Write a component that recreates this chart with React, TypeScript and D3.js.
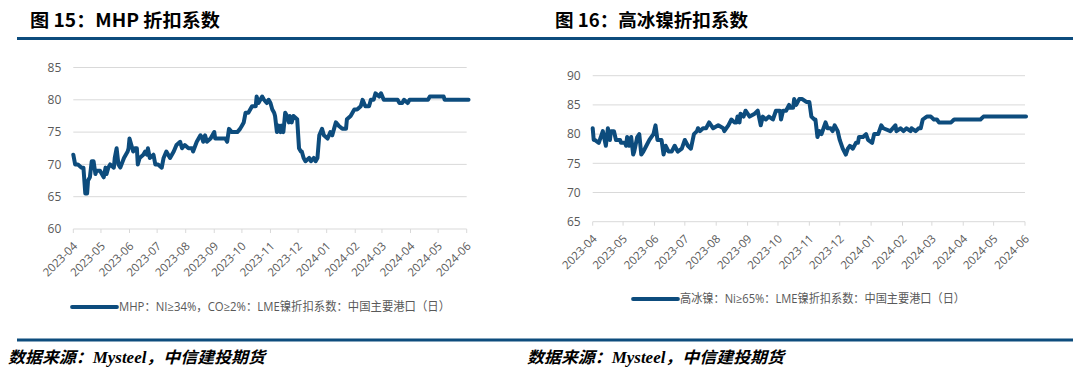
import React from 'react';
import * as d3 from 'd3';

// MHP: NI>=34%, CO>=2% LME nickel discount coefficient (China main ports, daily)
const mhpData: [string, number][] = [
  ['2023-04-01', 71.5], ['2023-04-03', 70], ['2023-04-06', 70], ['2023-04-10', 69.5], ['2023-04-12', 69.5],
  ['2023-04-14', 65.5], ['2023-04-16', 65.5], ['2023-04-17', 67.5], ['2023-04-19', 68], ['2023-04-21', 70.5],
  ['2023-04-23', 70.5], ['2023-04-25', 68.5], ['2023-04-26', 69], ['2023-04-30', 69], ['2023-05-02', 68.5],
  ['2023-05-04', 68], ['2023-05-06', 69.5], ['2023-05-07', 68.5], ['2023-05-09', 69.5], ['2023-05-11', 70],
  ['2023-05-15', 69.5], ['2023-05-16', 71], ['2023-05-18', 72.5], ['2023-05-20', 70], ['2023-05-22', 69.5],
  ['2023-05-26', 71], ['2023-05-30', 72], ['2023-05-31', 72.5], ['2023-06-01', 74], ['2023-06-03', 73],
  ['2023-06-05', 72], ['2023-06-07', 72.5], ['2023-06-09', 72.5], ['2023-06-10', 70], ['2023-06-12', 71],
  ['2023-06-16', 71.5], ['2023-06-18', 72], ['2023-06-20', 71.5], ['2023-06-21', 72.5], ['2023-06-23', 71],
  ['2023-06-27', 71.5], ['2023-06-29', 70], ['2023-07-02', 70], ['2023-07-06', 69.5], ['2023-07-08', 71],
  ['2023-07-11', 72], ['2023-07-15', 71], ['2023-07-19', 72], ['2023-07-22', 73], ['2023-07-26', 73.5],
  ['2023-07-28', 72.5], ['2023-07-31', 73], ['2023-08-04', 72.5], ['2023-08-08', 72.5], ['2023-08-09', 72],
  ['2023-08-13', 73.5], ['2023-08-17', 74.5], ['2023-08-19', 74], ['2023-08-20', 73.5], ['2023-08-22', 74.5],
  ['2023-08-24', 73.5], ['2023-08-28', 74], ['2023-09-01', 75], ['2023-09-02', 74], ['2023-09-08', 74],
  ['2023-09-13', 74], ['2023-09-15', 73.5], ['2023-09-17', 75.5], ['2023-09-20', 75], ['2023-09-26', 75],
  ['2023-09-29', 75.5], ['2023-10-01', 76], ['2023-10-03', 76.5], ['2023-10-05', 78], ['2023-10-08', 78],
  ['2023-10-12', 79], ['2023-10-16', 79], ['2023-10-17', 80.5], ['2023-10-19', 79.5], ['2023-10-23', 80.5],
  ['2023-10-25', 80], ['2023-10-28', 79.5], ['2023-10-30', 80], ['2023-11-01', 79.5], ['2023-11-03', 78.5],
  ['2023-11-05', 78], ['2023-11-06', 77.5], ['2023-11-08', 75], ['2023-11-10', 76], ['2023-11-12', 75],
  ['2023-11-13', 76], ['2023-11-15', 75], ['2023-11-17', 78], ['2023-11-19', 77.5], ['2023-11-21', 76.5],
  ['2023-11-22', 77.5], ['2023-11-24', 76.5], ['2023-11-26', 77.5], ['2023-11-30', 77], ['2023-12-02', 72.5],
  ['2023-12-04', 72], ['2023-12-05', 72], ['2023-12-07', 71], ['2023-12-09', 70.5], ['2023-12-13', 71],
  ['2023-12-15', 70.5], ['2023-12-18', 71], ['2023-12-20', 70.5], ['2023-12-22', 71], ['2023-12-24', 74.5],
  ['2023-12-27', 75.5], ['2023-12-29', 74.5], ['2024-01-02', 74], ['2024-01-05', 75], ['2024-01-07', 74.5],
  ['2024-01-11', 76.5], ['2024-01-14', 76], ['2024-01-18', 75.5], ['2024-01-22', 75.5], ['2024-01-23', 77],
  ['2024-01-27', 77.5], ['2024-01-31', 78.5], ['2024-02-03', 78.5], ['2024-02-07', 79], ['2024-02-09', 80],
  ['2024-02-12', 79], ['2024-02-16', 79], ['2024-02-18', 80], ['2024-02-21', 80], ['2024-02-23', 81],
  ['2024-02-27', 80.5], ['2024-02-29', 81], ['2024-03-03', 80], ['2024-03-18', 80], ['2024-03-20', 79.5],
  ['2024-03-23', 79.5], ['2024-03-25', 80], ['2024-03-29', 79.5], ['2024-03-31', 80], ['2024-04-20', 80],
  ['2024-04-22', 80.5], ['2024-05-07', 80.5], ['2024-05-08', 80], ['2024-06-03', 80],
];

// high-grade nickel matte: Ni>=65% LME nickel discount coefficient
const matteData: [string, number][] = [
  ['2023-04-01', 81], ['2023-04-02', 79], ['2023-04-03', 79], ['2023-04-07', 78.5], ['2023-04-10', 80],
  ['2023-04-11', 80.5], ['2023-04-14', 78], ['2023-04-16', 81], ['2023-04-18', 79], ['2023-04-19', 80.5],
  ['2023-04-22', 80.5], ['2023-04-24', 79], ['2023-04-28', 79], ['2023-04-29', 78.5], ['2023-05-03', 78.5],
  ['2023-05-04', 78], ['2023-05-05', 79.5], ['2023-05-07', 78], ['2023-05-09', 79.5], ['2023-05-11', 76.5],
  ['2023-05-12', 77], ['2023-05-15', 79.5], ['2023-05-17', 80], ['2023-05-19', 76.5], ['2023-05-21', 77],
  ['2023-05-24', 78], ['2023-05-27', 79], ['2023-05-31', 80], ['2023-06-02', 81.5], ['2023-06-04', 79],
  ['2023-06-08', 79], ['2023-06-10', 76.5], ['2023-06-12', 78], ['2023-06-15', 77], ['2023-06-18', 77],
  ['2023-06-21', 78], ['2023-06-24', 77], ['2023-06-28', 77.5], ['2023-07-01', 79], ['2023-07-04', 78],
  ['2023-07-07', 77.5], ['2023-07-10', 80], ['2023-07-13', 80.5], ['2023-07-14', 81], ['2023-07-16', 80.5],
  ['2023-07-19', 81], ['2023-07-22', 81], ['2023-07-25', 82], ['2023-07-27', 81.5], ['2023-07-29', 81],
  ['2023-08-03', 81.5], ['2023-08-08', 81], ['2023-08-09', 80.5], ['2023-08-13', 81.5], ['2023-08-16', 82.5],
  ['2023-08-19', 82], ['2023-08-21', 82], ['2023-08-22', 83], ['2023-08-24', 82], ['2023-08-25', 83.5],
  ['2023-08-28', 83], ['2023-08-30', 84], ['2023-09-03', 83], ['2023-09-08', 83.5], ['2023-09-11', 84],
  ['2023-09-14', 81.5], ['2023-09-16', 83], ['2023-09-19', 82.5], ['2023-09-22', 83], ['2023-09-26', 82.5],
  ['2023-09-29', 84], ['2023-10-03', 84], ['2023-10-04', 82.5], ['2023-10-06', 84], ['2023-10-09', 84],
  ['2023-10-12', 85], ['2023-10-13', 84.5], ['2023-10-16', 84.5], ['2023-10-17', 86], ['2023-10-19', 85],
  ['2023-10-22', 86], ['2023-10-25', 86], ['2023-10-29', 85.5], ['2023-11-01', 85.5], ['2023-11-03', 83],
  ['2023-11-06', 82.5], ['2023-11-07', 82.5], ['2023-11-09', 79.5], ['2023-11-11', 80.5], ['2023-11-13', 80],
  ['2023-11-15', 81], ['2023-11-17', 82], ['2023-11-19', 81], ['2023-11-22', 81], ['2023-11-24', 80.5],
  ['2023-11-26', 81.5], ['2023-11-29', 80.5], ['2023-12-01', 79], ['2023-12-04', 77.5], ['2023-12-07', 76.5],
  ['2023-12-09', 77.5], ['2023-12-11', 78], ['2023-12-14', 77.5], ['2023-12-17', 78.5], ['2023-12-19', 78.5],
  ['2023-12-20', 79.5], ['2023-12-24', 79.5], ['2023-12-27', 80], ['2023-12-29', 79], ['2024-01-02', 78.5],
  ['2024-01-04', 80], ['2024-01-08', 80], ['2024-01-11', 81.5], ['2024-01-13', 81], ['2024-01-20', 80.5],
  ['2024-01-25', 81.5], ['2024-01-26', 80.5], ['2024-01-30', 81], ['2024-02-02', 80.5], ['2024-02-05', 81],
  ['2024-02-09', 80.5], ['2024-02-10', 81], ['2024-02-14', 80.5], ['2024-02-17', 81], ['2024-02-19', 81],
  ['2024-02-21', 82.5], ['2024-02-25', 83], ['2024-02-29', 83], ['2024-03-03', 82.5], ['2024-03-06', 82.5],
  ['2024-03-08', 82], ['2024-03-20', 82], ['2024-03-23', 82.5], ['2024-04-18', 82.5], ['2024-04-21', 83],
  ['2024-06-02', 83],
];

const monthLabels = [
  '2023-04', '2023-05', '2023-06', '2023-07', '2023-08', '2023-09', '2023-10', '2023-11',
  '2023-12', '2024-01', '2024-02', '2024-03', '2024-04', '2024-05', '2024-06',
];
const mhpTicks = [60, 65, 70, 75, 80, 85];
const matteTicks = [65, 70, 75, 80, 85, 90];

const titles = ['图 15：MHP 折扣系数', '图 16：高冰镍折扣系数'];
const legends = [
  'MHP：NI≥34%，CO≥2%：LME镍折扣系数：中国主要港口（日）',
  '高冰镍：Ni≥65%：LME镍折扣系数：中国主要港口（日）',
];
const source = '数据来源：Mysteel，中信建投期货';

const BLUE = '#0d4c7d';
const GRID = '#d9d9d9';
const TEXT = '#595959';
const sansFont = '"Open Sans", "Noto Sans CJK SC", sans-serif';
const cjkFont = '"Noto Sans CJK SC", sans-serif';

const parseDay = d3.timeParse('%Y-%m-%d');
const parseMonth = d3.timeParse('%Y-%m');

type PanelProps = {
  data: [string, number][];
  ticks: number[];
  left: number;
  right: number;
  top: number;
  bottom: number;
  legend: string;
  legendX: number;
  legendY: number;
  legendWidth: number;
};

function Panel({ data, ticks, left, right, top, bottom, legend, legendX, legendY, legendWidth }: PanelProps) {
  const months = monthLabels.map(m => parseMonth(m) as Date);
  const x = d3.scaleTime()
    .domain([months[0], months[months.length - 1]])
    .range([left, right]);
  const y = d3.scaleLinear()
    .domain([ticks[0], ticks[ticks.length - 1]])
    .range([bottom, top]);

  const line = d3.line<[string, number]>()
    .x(d => x(parseDay(d[0]) as Date))
    .y(d => y(d[1]));

  return (
    <g>
      {ticks.map(t => (
        <g key={t}>
          <line x1={left} x2={right} y1={y(t)} y2={y(t)} stroke={GRID} strokeWidth={1} />
          <text x={left - 12} y={y(t)} dy="0.35em" textAnchor="end" fontSize={12}
            fill={TEXT} fontFamily={sansFont}>{t}</text>
        </g>
      ))}
      {months.map((m, i) => (
        <g key={monthLabels[i]}>
          <line x1={x(m)} x2={x(m)} y1={bottom} y2={bottom + 4} stroke={GRID} />
          <text transform={`translate(${x(m) + 2},${bottom + 15}) rotate(-45)`} textAnchor="end"
            dy="0.35em" fontSize={11.5} fill={TEXT} fontFamily={sansFont}>{monthLabels[i]}</text>
        </g>
      ))}
      <path d={line(data) || ''} fill="none" stroke={BLUE} strokeWidth={4}
        strokeLinejoin="round" strokeLinecap="round" />
      <line x1={legendX} x2={legendX + 45} y1={legendY} y2={legendY} stroke={BLUE}
        strokeWidth={3.8} strokeLinecap="round" />
      <text x={legendX + 47} y={legendY} dy="0.35em" fontSize={12} fill={TEXT}
        fontFamily={sansFont} textLength={legendWidth} lengthAdjust="spacingAndGlyphs">{legend}</text>
    </g>
  );
}

export default function App() {
  return (
    <svg width={1080} height={372} style={{ position: 'absolute', left: 0, top: 0, background: '#fff' }}>
      <rect width={1080} height={372} fill="#fff" />
      <text x={30} y={27} fontSize={18} fontWeight="bold" fill="#000" fontFamily={cjkFont}
        textLength={190} lengthAdjust="spacingAndGlyphs">{titles[0]}</text>
      <text x={555} y={27} fontSize={18} fontWeight="bold" fill="#000" fontFamily={cjkFont}
        textLength={193} lengthAdjust="spacingAndGlyphs">{titles[1]}</text>
      <line x1={17} x2={1073} y1={38.5} y2={38.5} stroke={BLUE} strokeWidth={3.2} />

      <Panel data={mhpData} ticks={mhpTicks} left={73.3} right={466.7} top={67.5} bottom={229}
        legend={legends[0]} legendX={72} legendY={307} legendWidth={331} />
      <Panel data={matteData} ticks={matteTicks} left={592.7} right={1025} top={75.7} bottom={221.7}
        legend={legends[1]} legendX={633} legendY={299} legendWidth={285} />

      <line x1={17} x2={1073} y1={340} y2={340} stroke={BLUE} strokeWidth={3.2} />
      {[8, 527].map(sx => (
        <text key={sx} x={sx} y={363} fontSize={16} fontWeight="bold" fontStyle="italic" fill="#000"
          fontFamily='"Liberation Serif", "Noto Sans CJK SC", serif'
          textLength={257} lengthAdjust="spacingAndGlyphs">{source}</text>
      ))}
    </svg>
  );
}
